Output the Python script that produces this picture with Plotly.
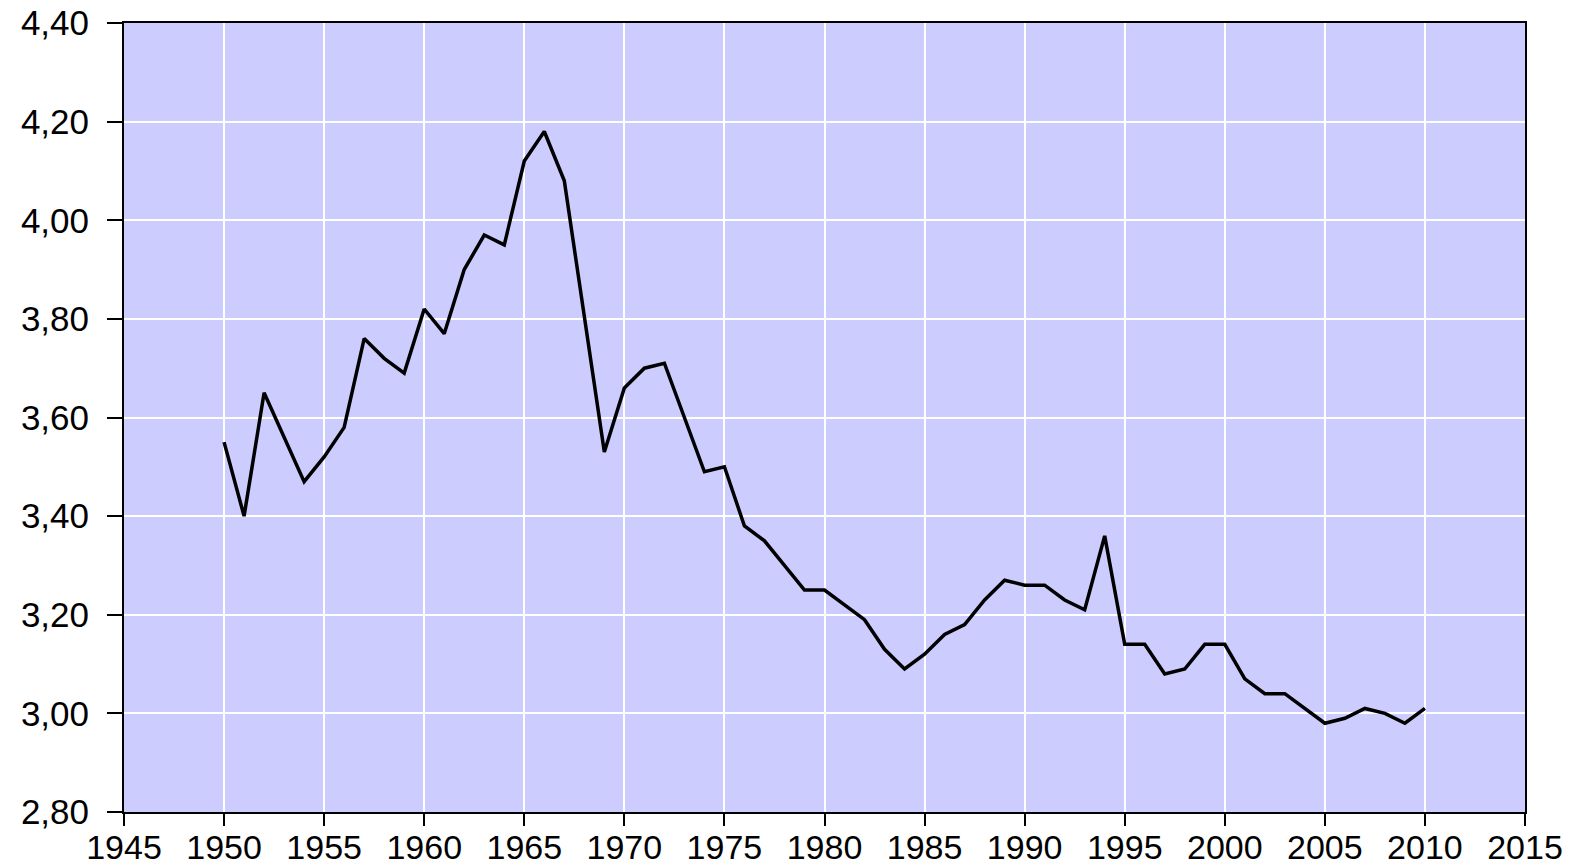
import plotly.graph_objects as go

years = list(range(1950, 2011))
values = [3.55, 3.40, 3.65, 3.56, 3.47, 3.52, 3.58, 3.76, 3.72, 3.69,
          3.82, 3.77, 3.90, 3.97, 3.95, 4.12, 4.18, 4.08, 3.81, 3.53,
          3.66, 3.70, 3.71, 3.60, 3.49, 3.50, 3.38, 3.35, 3.30, 3.25,
          3.25, 3.22, 3.19, 3.13, 3.09, 3.12, 3.16, 3.18, 3.23, 3.27,
          3.26, 3.26, 3.23, 3.21, 3.36, 3.14, 3.14, 3.08, 3.09, 3.14,
          3.14, 3.07, 3.04, 3.04, 3.01, 2.98, 2.99, 3.01, 3.00, 2.98,
          3.01]

x_ticks = list(range(1945, 2016, 5))
y_ticks = [2.8, 3.0, 3.2, 3.4, 3.6, 3.8, 4.0, 4.2, 4.4]

fig = go.Figure()
fig.add_trace(go.Scatter(x=years, y=values, mode="lines",
                         line=dict(color="black", width=3.5)))

font = dict(family="Liberation Sans, Arial, sans-serif", size=35, color="black")
xfont = dict(family="Liberation Sans, Arial, sans-serif", size=34, color="black")

fig.update_layout(
    width=1579, height=868,
    margin=dict(l=124, r=54, t=23, b=56, autoexpand=False),
    plot_bgcolor="#CCCCFF",
    paper_bgcolor="white",
    separators=",.",
    showlegend=False,
    font=font,
)
fig.update_xaxes(range=[1945, 2015], tickvals=x_ticks, ticktext=[str(t) for t in x_ticks],
                 showgrid=True, gridcolor="white", gridwidth=2,
                 showline=True, linecolor="black", linewidth=2, mirror=True,
                 ticks="outside", ticklen=12, tickwidth=2, tickcolor="black",
                 zeroline=False, tickfont=xfont, ticklabelstandoff=-8, automargin=False)
fig.update_yaxes(range=[2.8, 4.4], tickvals=y_ticks, tickformat=".2f",
                 showgrid=True, gridcolor="white", gridwidth=2,
                 showline=True, linecolor="black", linewidth=2, mirror=True,
                 ticks="outside", ticklen=15, tickwidth=2, tickcolor="black",
                 zeroline=False, tickfont=font, ticklabelstandoff=11, automargin=False)

fig.write_html("out.html", config={"displayModeBar": False},
               post_script="document.body.style.margin='0';document.body.style.overflow='hidden';")
